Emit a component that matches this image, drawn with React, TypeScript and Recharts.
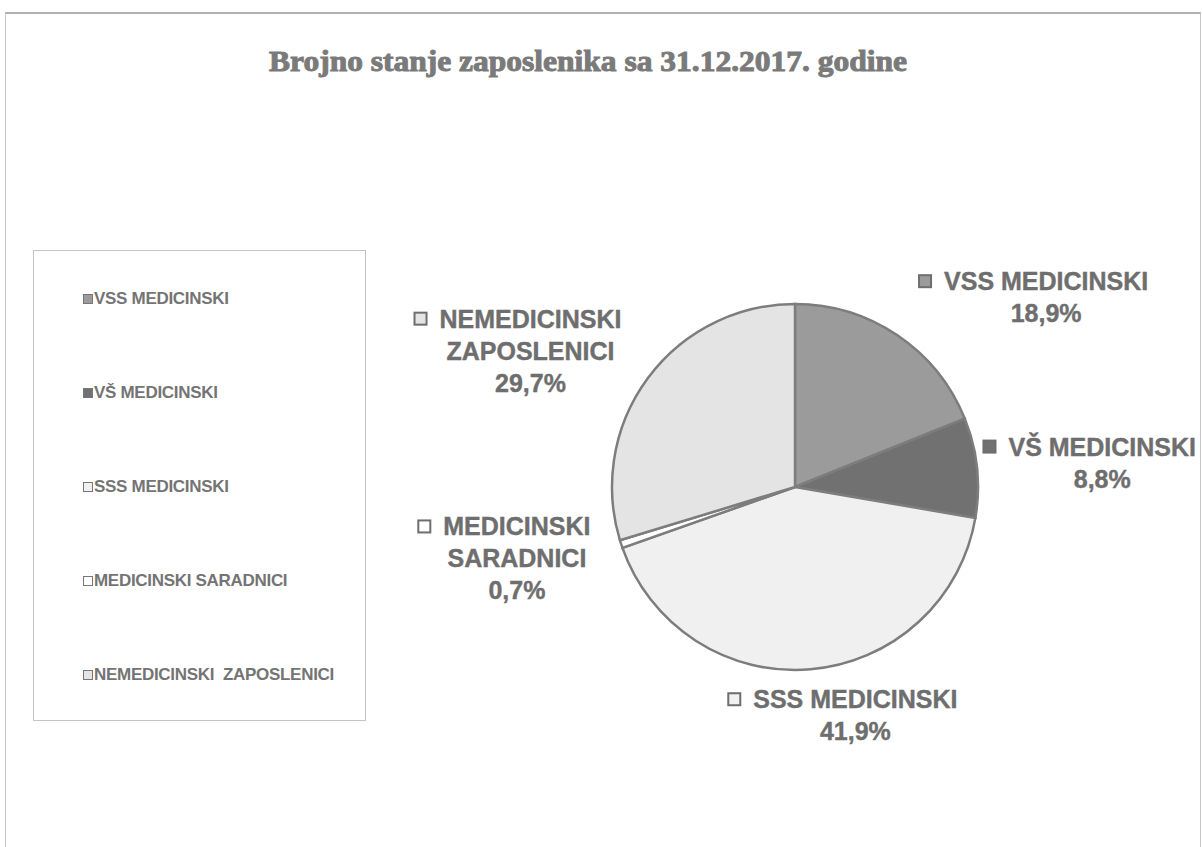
import { PieChart, Pie, Cell } from "recharts";

// categories as they appear in the legend box
const categories = [
  "VSS MEDICINSKI",
  "VŠ MEDICINSKI",
  "SSS MEDICINSKI",
  "MEDICINSKI SARADNICI",
  "NEMEDICINSKI  ZAPOSLENICI",
];
// same categories, wrapped the way the data labels wrap them
const labelLines = [
  ["VSS MEDICINSKI"],
  ["VŠ MEDICINSKI"],
  ["SSS MEDICINSKI"],
  ["MEDICINSKI", "SARADNICI"],
  ["NEMEDICINSKI", "ZAPOSLENICI"],
];
const shares = [18.9, 8.8, 41.9, 0.7, 29.7];
const colors = ["#9b9b9b", "#717171", "#f0f0f0", "#ffffff", "#e4e4e4"];

const TEXT = "#6e6e6e";
const EDGE = "#7d7d7d";
const LABEL_FONT = 25;
const LINE_H = 32;
const MARK = 12;
const GAP = 13;
const CHART_W = 1202;
const CHART_H = 847;
const RADIAN = Math.PI / 180;

// Arial / Liberation Sans Bold advance widths (em)
const W: Record<string, number> = {
  A: 0.722, B: 0.722, C: 0.722, D: 0.722, E: 0.667, F: 0.611, G: 0.778,
  H: 0.722, I: 0.278, J: 0.556, K: 0.722, L: 0.611, M: 0.833, N: 0.722,
  O: 0.778, P: 0.667, R: 0.722, S: 0.667, Š: 0.667, T: 0.611, U: 0.722,
  V: 0.667, Z: 0.611, ",": 0.278, "%": 0.889, " ": 0.278,
};
const textWidth = (s: string) =>
  [...s].reduce((acc, ch) => acc + (W[ch] ?? 0.556), 0) * LABEL_FONT;

const fmt = (v: number) => v.toFixed(1).replace(".", ",") + "%";

const data = categories.map((name, i) => ({ name, value: shares[i] }));

function renderLabel(props: any) {
  const { cx, cy, midAngle, outerRadius, index } = props;
  const r = outerRadius + 28;
  const ax = cx + r * Math.cos(-midAngle * RADIAN);
  const ay = cy + r * Math.sin(-midAngle * RADIAN);
  const lines = [...labelLines[index], fmt(shares[index])];
  const widths = lines.map(textWidth);
  const colW = Math.max(...widths);
  const blockW = MARK + GAP + colW;
  const blockH = lines.length * LINE_H;

  const dx = ax - cx;
  const dy = ay - cy;
  let left: number;
  let top: number;
  if (Math.abs(dx) < 0.3 * r) {
    left = ax - blockW / 2 + 30;
    top = dy > 0 ? ay - 14 : ay - blockH;
  } else {
    left = dx > 0 ? ax + 6 : ax - 4 - blockW;
    top = ay - blockH / 2 + 18 * (dy / r);
  }
  // keep the label inside the chart area
  left = Math.max(4, Math.min(left, CHART_W - 6 - blockW));

  const colLeft = left + MARK + GAP;
  const colMid = colLeft + colW / 2;
  const firstStart = colMid - widths[0] / 2;

  return (
    <g key={`lbl-${index}`}>
      <rect
        x={firstStart - GAP - MARK}
        y={top + LINE_H / 2 - MARK / 2}
        width={MARK}
        height={MARK}
        fill={colors[index]}
        stroke={TEXT}
        strokeWidth={2}
      />
      {lines.map((ln, i) => (
        <text
          key={i}
          x={colMid}
          y={top + LINE_H / 2 + i * LINE_H}
          textAnchor="middle"
          dominantBaseline="central"
          fill={TEXT}
          stroke={TEXT}
          strokeWidth={0.4}
          fontFamily="'Liberation Sans', Arial, sans-serif"
          fontWeight="bold"
          fontSize={LABEL_FONT}
        >
          {ln}
        </text>
      ))}
    </g>
  );
}

export default function App() {
  return (
    <div
      style={{
        position: "absolute",
        left: 0,
        top: 0,
        width: CHART_W,
        height: CHART_H,
        background: "#fff",
        overflow: "hidden",
      }}
    >
      {/* outer frame */}
      <div
        style={{
          position: "absolute",
          left: 5,
          top: 12,
          width: 1194,
          height: 840,
          border: "1px solid #c8c8c8",
          borderTopWidth: 2,
          borderTopColor: "#b0b0b0",
        }}
      />
      <svg
        width={CHART_W}
        height={100}
        style={{ position: "absolute", left: 0, top: 0 }}
      >
        <text
          x={269}
          y={71}
          textLength={638}
          lengthAdjust="spacingAndGlyphs"
          fill="#7a7a7a"
          stroke="#7a7a7a"
          strokeWidth={1}
          fontFamily="'Liberation Serif', 'Times New Roman', serif"
          fontWeight="bold"
          fontSize={30}
        >
          Brojno stanje zaposlenika sa 31.12.2017. godine
        </text>
      </svg>

      {/* legend box */}
      <div
        style={{
          position: "absolute",
          left: 33,
          top: 250,
          width: 333,
          height: 471,
          border: "1px solid #c4c4c4",
          boxSizing: "border-box",
          fontFamily: "'Liberation Sans', Arial, sans-serif",
          fontWeight: "bold",
          fontSize: 17,
          color: "#747474",
        }}
      >
        {categories.map((c, i) => (
          <div
            key={c}
            style={{
              position: "absolute",
              left: 49,
              top: 37 + i * 94,
              height: 22,
              display: "flex",
              alignItems: "center",
              whiteSpace: "pre",
              letterSpacing: -0.3,
            }}
          >
            <span
              style={{
                display: "inline-block",
                width: 8,
                height: 8,
                marginRight: 1,
                background: colors[i],
                border: "1px solid #777",
              }}
            />
            {c}
          </div>
        ))}
      </div>

      <div style={{ position: "absolute", left: 0, top: 0 }}>
        <PieChart
          width={CHART_W}
          height={CHART_H}
          margin={{ top: 0, right: 0, bottom: 0, left: 0 }}
        >
          <Pie
            data={data}
            dataKey="value"
            nameKey="name"
            cx={795}
            cy={487}
            outerRadius={183}
            startAngle={90}
            endAngle={-270}
            stroke={EDGE}
            strokeWidth={2.5}
            label={renderLabel}
            labelLine={false}
            isAnimationActive={false}
          >
            {data.map((d, i) => (
              <Cell key={d.name} fill={colors[i]} />
            ))}
          </Pie>
        </PieChart>
      </div>
    </div>
  );
}
